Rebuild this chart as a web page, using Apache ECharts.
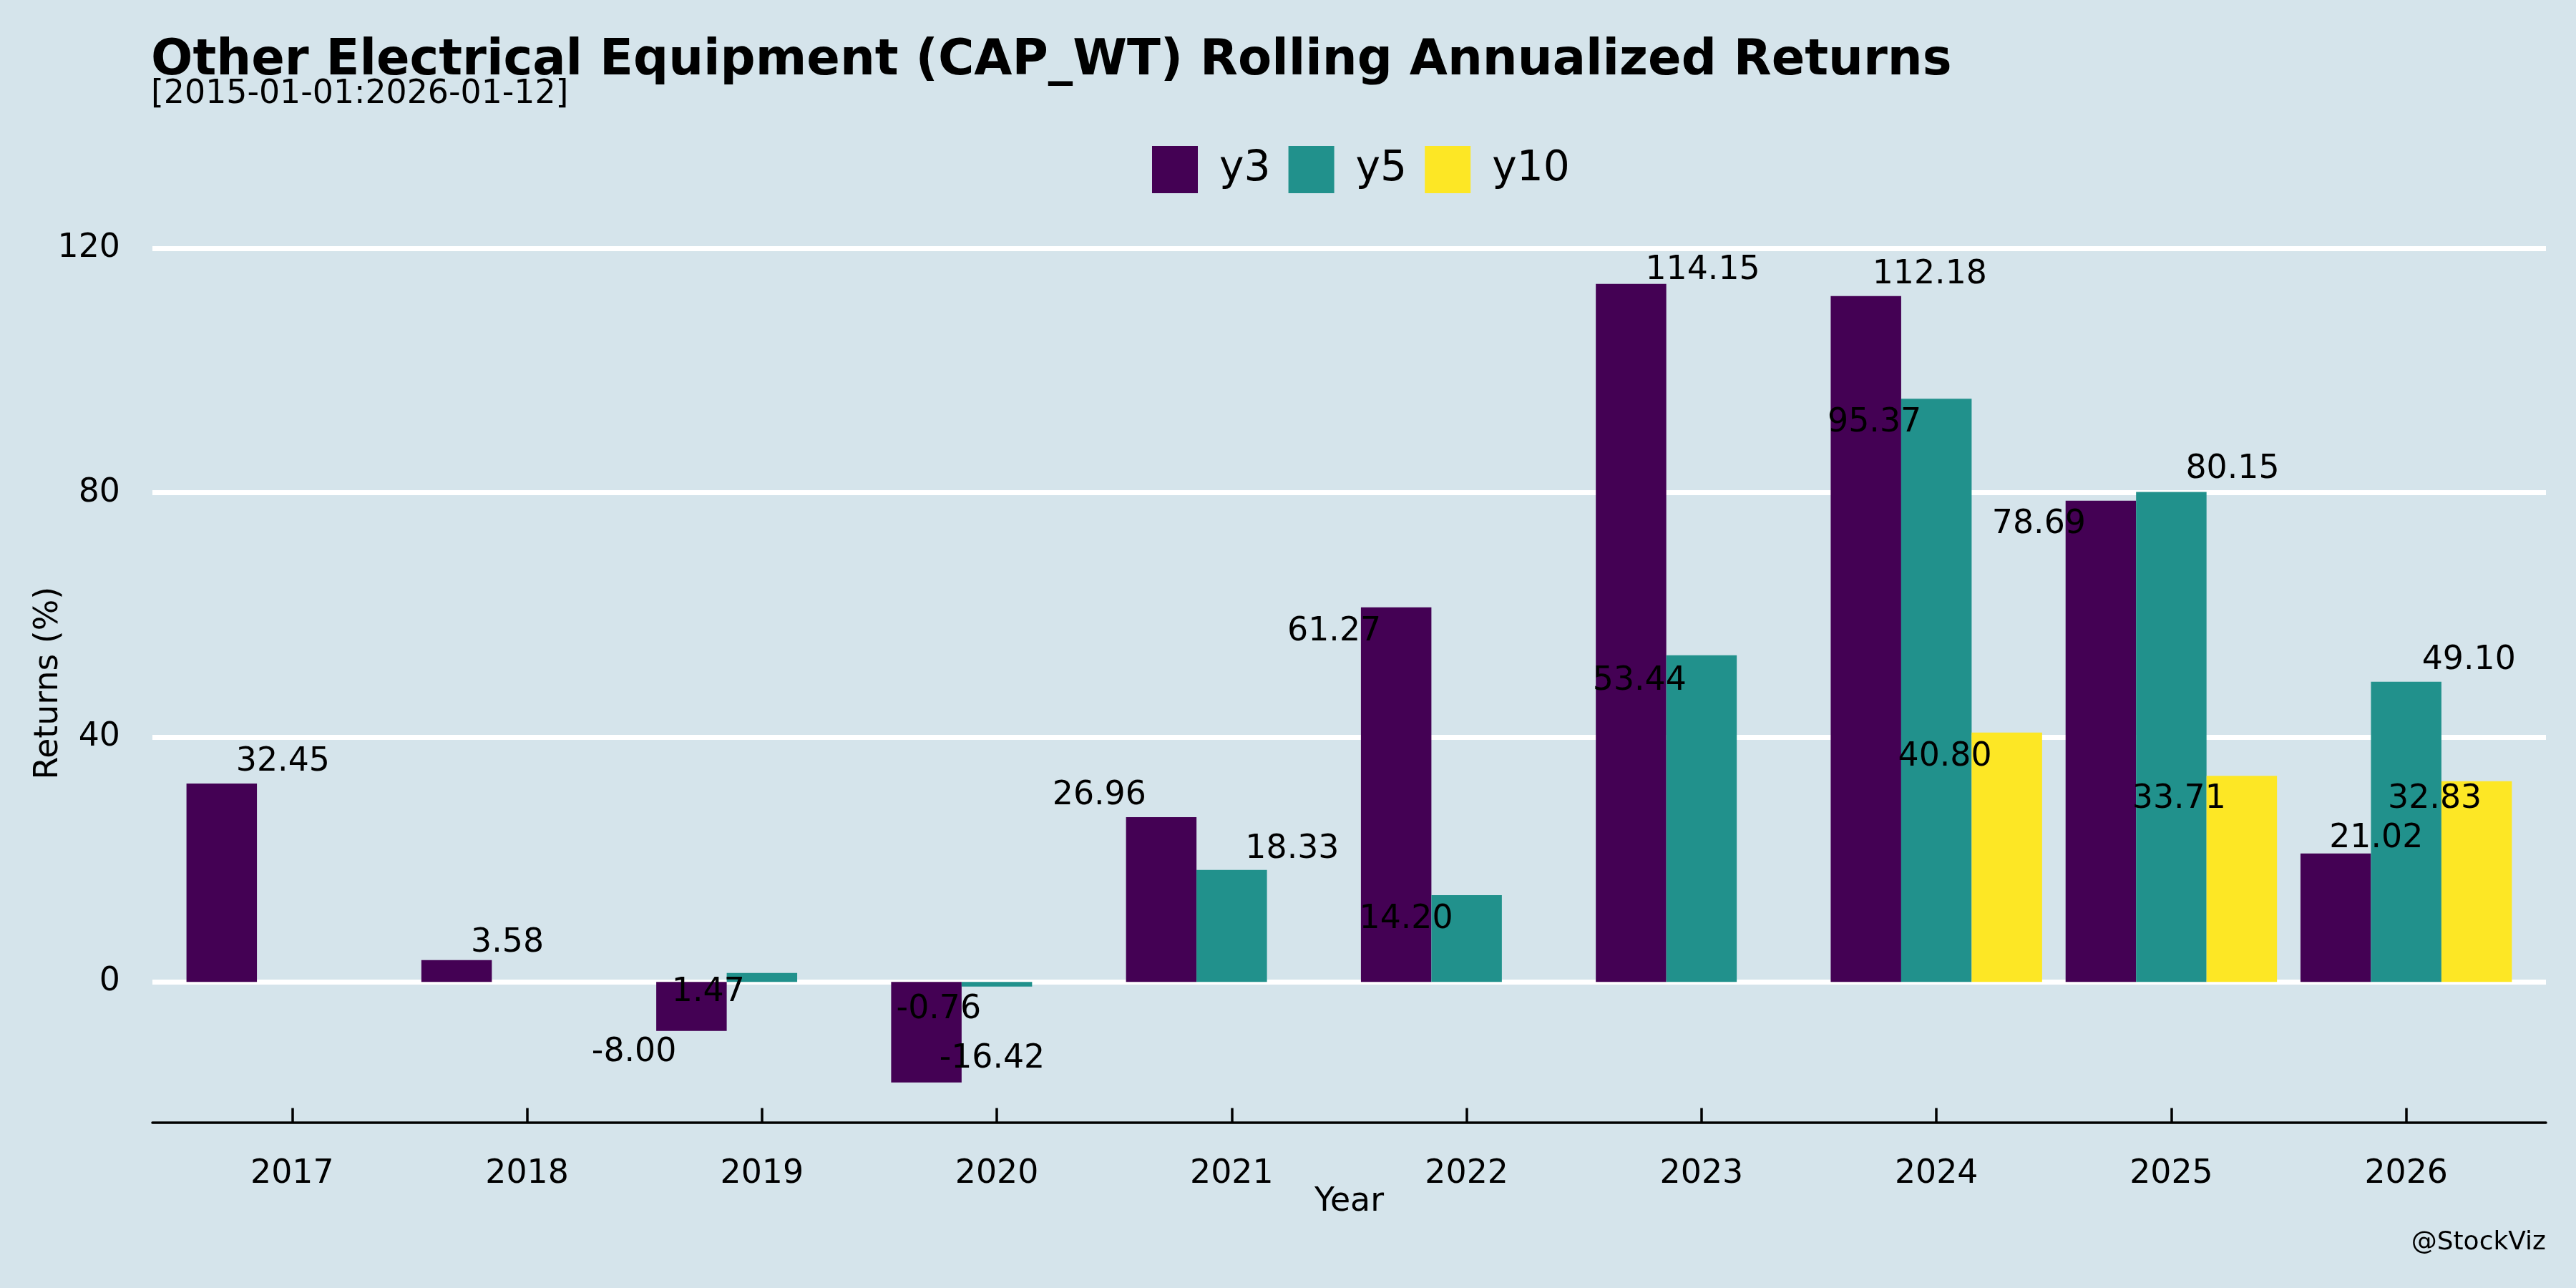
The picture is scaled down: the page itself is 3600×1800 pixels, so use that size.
<!DOCTYPE html>
<html>
<head>
<meta charset="utf-8">
<script src="https://cdn.jsdelivr.net/npm/echarts@6/dist/echarts.min.js"></script>
<style>
html,body{margin:0;padding:0;background:#d5e4eb;}
#chart{width:3600px;height:1800px;}
</style>
</head>
<body>
<div id="chart"></div>
<script>
// ---- data ----
const years = ['2017','2018','2019','2020','2021','2022','2023','2024','2025','2026'];
const y3  = [32.45, 3.58, -8.00, -16.42, 26.96, 61.27, 114.15, 112.18, 78.69, 21.02];
const y5  = [null, null, 1.47, -0.76, 18.33, 14.20, 53.44, 95.37, 80.15, 49.10];
const y10 = [null, null, null, null, null, null, null, 40.80, 33.71, 32.83];
const yTicks = [0, 40, 80, 120];
const seriesNames = ['y3', 'y5', 'y10'];

// ---- label placement (style, not data) ----
const labelAlign = {
  y3:  ['left','left','right','left','right','right','left','left','right','left'],
  y5:  [null,null,'right','right','left','right','right','right','left','left'],
  y10: [null,null,null,null,null,null,null,'right','right','right']
};
const labelDx = {
  y3:  [20, 20, -21, 18, -21, -21, 20, 9, -21, -9],
  y5:  [0, 0, -24, -22, 19, -19, -21, -21, 20, 22],
  y10: [0,0,0,0,0,0,0, -21, -22, 7]
};
const labelDy = {
  y3:  [-30, -24, 99, 108, -30, 34, -19, -30, 33, -21],
  y5:  [0, 0, 27, 39, -29, 34, 36, 34, -31, -30],
  y10: [0,0,0,0,0,0,0, 34, 33, 25]
};

const colors = ['#440154', '#21918c', '#fde725'];
const FONT = 'DejaVu Sans';
const FS = 45.8;

function buildData(name, vals) {
  return vals.map((v, i) => {
    if (v === null) return { value: [i, null] };
    return {
      value: [i, v],
      label: {
        align: labelAlign[name][i],
        verticalAlign: 'middle',
        offset: [labelDx[name][i], labelDy[name][i]]
      }
    };
  });
}

const valsByName = { y3: y3, y5: y5, y10: y10 };

const chart = echarts.init(document.getElementById('chart'), null, { renderer: 'canvas' });

const option = {
  backgroundColor: '#d5e4eb',
  animation: false,
  title: [
    {
      text: 'Other Electrical Equipment (CAP_WT) Rolling Annualized Returns',
      left: 211, top: 52, padding: 0,
      textStyle: { fontFamily: FONT, fontWeight: 'bold', fontSize: 68.7, color: '#000' }
    },
    {
      text: '[2015-01-01:2026-01-12]',
      left: 211, top: 109, padding: 0,
      textStyle: { fontFamily: FONT, fontWeight: 'normal', fontSize: 45.8, color: '#000' }
    },
    {
      text: '@StockViz',
      right: 42, top: 1719, padding: 0,
      textStyle: { fontFamily: FONT, fontWeight: 'normal', fontSize: 36, color: '#000' }
    }
  ],
  legend: {
    data: seriesNames,
    left: 1610, top: 204, padding: 0,
    itemWidth: 64, itemHeight: 66, itemGap: 25,
    icon: 'rect',
    textStyle: { fontFamily: FONT, fontSize: 58.3, color: '#000', padding: [10, 0, 0, 25] }
  },
  grid: { left: 213, right: 42, top: 341, bottom: 231.5, containLabel: false },
  xAxis: {
    type: 'value',
    min: -0.595, max: 9.595,
    name: 'Year', nameLocation: 'middle', nameGap: 89, nameMoveOverlap: false,
    nameTextStyle: { fontFamily: FONT, fontSize: FS, color: '#000' },
    axisLine: { show: true, onZero: false, lineStyle: { color: '#000', width: 3.5 } },
    axisTick: { show: true, inside: true, length: 20, customValues: years.map((y, i) => i),
                lineStyle: { color: '#000', width: 3.5 } },
    axisLabel: { customValues: years.map((y, i) => i), formatter: v => years[Math.round(v)],
                 margin: 50, fontFamily: FONT, fontSize: FS, color: '#000' },
    splitLine: { show: false }
  },
  yAxis: {
    type: 'value',
    min: -22.95, max: 120.68,
    name: 'Returns (%)', nameLocation: 'middle', nameGap: 122, nameRotate: 90, nameMoveOverlap: false,
    nameTextStyle: { fontFamily: FONT, fontSize: FS, color: '#000' },
    axisLine: { show: false },
    axisTick: { show: false, customValues: yTicks },
    axisLabel: { customValues: yTicks, margin: 45, fontFamily: FONT, fontSize: FS, color: '#000',
                 verticalAlign: 'middle', lineHeight: FS, padding: [18, 0, 0, 0] },
    splitLine: { show: true, lineStyle: { color: '#ffffff', width: 7 } }
  },
  series: seriesNames.map((name, k) => ({
    name: name,
    type: 'bar',
    barGap: '0%',
    barCategoryGap: '10%',
    itemStyle: { color: colors[k] },
    label: {
      show: true,
      position: 'top',
      distance: 0,
      fontFamily: FONT,
      fontSize: FS,
      color: '#000',
      formatter: p => (p.value[1] === null ? '' : Number(p.value[1]).toFixed(2))
    },
    data: buildData(name, valsByName[name])
  }))
};

chart.setOption(option);
</script>
</body>
</html>
